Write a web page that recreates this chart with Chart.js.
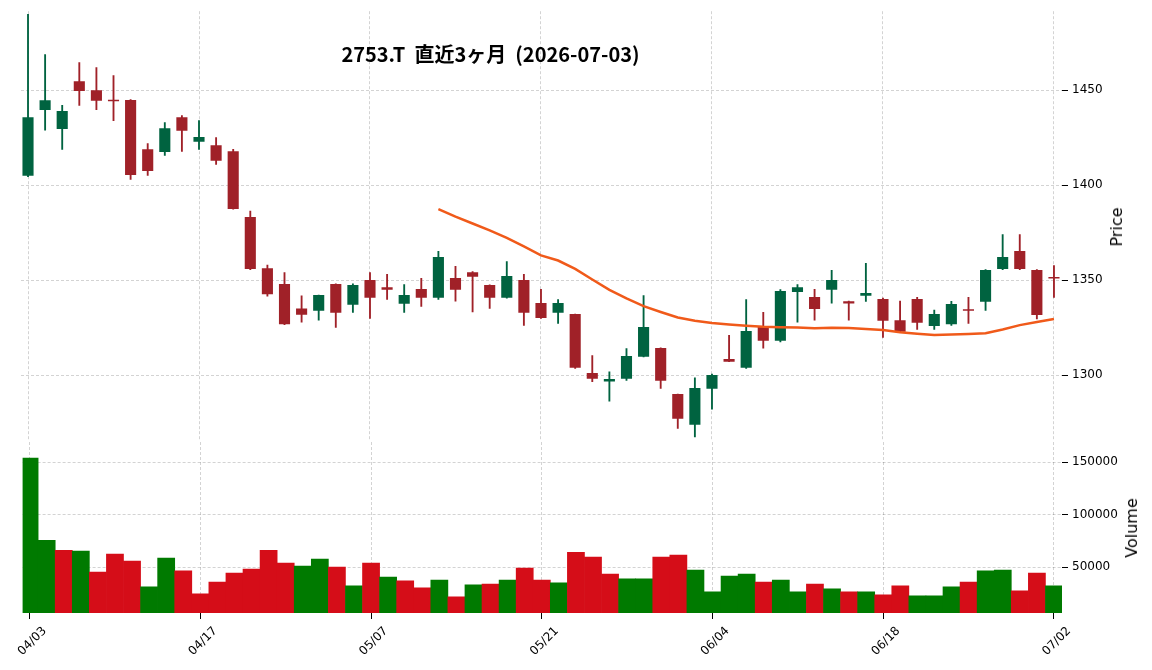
<!DOCTYPE html>
<html><head><meta charset="utf-8">
<script src="https://cdn.jsdelivr.net/npm/chart.js@4.4.1/dist/chart.umd.min.js"></script>
<style>
html,body{margin:0;padding:0;background:#fff;}
#wrap{position:relative;width:1152px;height:670px;overflow:hidden;background:#fff;}
canvas{position:absolute;left:0;top:0;}
.lbl{position:absolute;white-space:pre;color:#000;line-height:1;}
#title{left:0;width:981px;text-align:center;top:44px;font-family:"Noto Sans CJK JP";font-weight:bold;font-size:20px;}
#ylab1,#ylab2{font-family:"DejaVu Sans";font-size:16px;transform:translate(-50%,-50%) rotate(-90deg);}
#ylab1{left:1117px;top:227px;}
#ylab2{left:1132px;top:528px;}
</style></head><body>
<div id="wrap">
<canvas id="vol" width="1152" height="670"></canvas>
<canvas id="price" width="1152" height="670"></canvas>
<div class="lbl" id="title">2753.T  直近3ヶ月  (2026-07-03)</div>
<div class="lbl" id="ylab1">Price</div>
<div class="lbl" id="ylab2">Volume</div>
</div>
<script>
const dates = ["04/03","04/06","04/07","04/08","04/09","04/10","04/13","04/14","04/15","04/16",
"04/17","04/20","04/21","04/22","04/23","04/24","04/27","04/28","04/30","05/01",
"05/07","05/08","05/11","05/12","05/13","05/14","05/15","05/18","05/19","05/20",
"05/21","05/22","05/25","05/26","05/27","05/28","05/29","06/01","06/02","06/03",
"06/04","06/05","06/08","06/09","06/10","06/11","06/12","06/15","06/16","06/17",
"06/18","06/19","06/22","06/23","06/24","06/25","06/26","06/29","06/30","07/01","07/02"];

const opens = [1404.9,1439.6,1429.6,1454.7,1450,1444.9,1444.9,1418.9,1417.4,1435.8,
1422.8,1421,1417.9,1383.2,1356.3,1347.9,1335.1,1333.8,1347.9,1337,
1350,1346.3,1337.5,1345.3,1340.7,1351.1,1354.2,1347.4,1340.7,1350,
1337.9,1332.8,1332.1,1301.1,1296.6,1298.1,1309.6,1314.2,1290,1273.8,
1292.8,1308.4,1303.8,1325.3,1318,1343.8,1341.1,1344.9,1338.9,1341.7,
1340,1328.9,1340,1325.8,1326.8,1334.2,1338.6,1355.8,1365.3,1355.3,1351.1];
const highs = [1490,1468.8,1442,1464.6,1461.9,1457.7,1445,1421.9,1433,1436.7,
1434,1425.1,1418.8,1386.3,1357.9,1354,1341.7,1342.1,1348,1348,
1354,1353,1347.7,1350.9,1365.1,1357.2,1354.5,1347.5,1359.8,1353,
1345.1,1339.8,1332.1,1310.2,1301.7,1314,1341.9,1314.3,1290,1298.6,
1300.5,1320.9,1339.8,1333,1345,1347.7,1345.1,1355.1,1339,1358.8,
1340.5,1339,1340.9,1334.2,1338.8,1340.9,1355.5,1374,1374,1355.5,1357.7];
const lows = [1404.5,1428.9,1418.8,1442,1439.8,1434,1403,1405.1,1415.6,1417.7,
1418.8,1410.9,1387.4,1355.5,1341.6,1326.5,1327.9,1328.9,1325.1,1333,
1329.8,1339.8,1333,1336.2,1339.8,1338.9,1333.2,1335.1,1340.5,1326.2,
1329.8,1327.2,1303.5,1296.5,1286.3,1297.2,1309.5,1293,1271.9,1267.4,
1282.1,1307,1303.5,1314.2,1317.5,1327.9,1328.9,1337.9,1328.9,1338.8,
1319.8,1322.5,1324,1324,1326.2,1327.2,1334,1355.5,1355.5,1329.5,1340.9];
const closes = [1435.8,1444.7,1439,1449.6,1444.4,1444.2,1405.4,1407.5,1430,1428.6,
1425.3,1412.8,1387.4,1355.8,1342.6,1326.8,1331.7,1342.1,1332.8,1347.4,
1340.7,1344.9,1342.1,1340.7,1362.1,1344.9,1351.7,1340.7,1352.1,1332.8,
1330,1337.9,1303.8,1298.1,1297.9,1310,1325.3,1297,1277,1293.2,
1300,1307,1323.2,1318,1344.2,1346.3,1334.8,1350,1337.7,1343.2,
1328.6,1322.8,1327.5,1332.1,1337.4,1333.8,1355.3,1362.1,1355.8,1331.6,1350.8];
const volumes = [153800,75750,66300,65400,45600,62500,55900,31400,58800,46600,
24800,36100,44600,48400,66300,54000,51200,57800,50300,32400,
54000,40800,37100,30500,38000,22000,33300,34200,38000,49300,
38000,35200,64400,59700,43700,39000,39000,59700,61600,47500,
26700,41800,43700,36100,38000,26700,34200,29500,26700,26700,
23900,32400,22900,22900,31400,36100,46600,47500,27600,44600,32400];
const ma25 = [null,null,null,null,null,null,null,null,null,null,
null,null,null,null,null,null,null,null,null,null,
null,null,null,null,1387.4,1383.4,1379.8,1376.2,1372.2,1367.7,
1363,1360.3,1355.9,1350.3,1344.9,1340.4,1336.3,1333.2,1330.3,1328.6,
1327.4,1326.6,1326,1325.4,1325.2,1325,1324.7,1324.9,1324.8,1324.3,
1323.7,1322.5,1321.8,1321.1,1321.3,1321.6,1322,1324,1326.3,1327.9,1329.5];

const dateTickIdx = [0,10,20,30,40,50,60];
const priceTicks = [1300,1350,1400,1450];
const volumeTicks = [50000,100000,150000];

const UP='#006340', DOWN='#A02128', VUP='#007a00', VDOWN='#d50d18', MA='#f05a1a';
const idx = dates.map((d,i)=>i);
const candleColors = idx.map(i => closes[i] >= opens[i] ? UP : DOWN);
const volColors = idx.map(i => (i===0 || closes[i] >= closes[i-1]) ? VUP : VDOWN);

Chart.defaults.font.family = 'DejaVu Sans';
Chart.defaults.font.size = 12;
Chart.defaults.color = '#000';

const XMIN=-0.41, XMAX=60.47;
const gridStyle = {color:'rgba(0,0,0,0.22)', lineWidth:0.8, offset:false};

function xScale(showLabels, h){
  return {
    type:'linear', min:XMIN, max:XMAX, offset:false, bounds:'data',
    afterBuildTicks: s => { s.ticks = dateTickIdx.map(v=>({value:v})); },
    afterFit: s => { s.height = h; },
    ticks: showLabels ? {display:true, autoSkip:false, maxRotation:45, minRotation:45, labelOffset:15, padding:5,
             color:'#000', font:{size:12}, callback: v => dates[v] ?? ''} : {display:false},
    grid: Object.assign({}, gridStyle, {drawTicks: showLabels, tickLength:6, tickColor:'#000', tickWidth:1, tickBorderDash:[]}),
    border: {display:false, dash:[3,2]}
  };
}
function yScale(min, max, ticks){
  return {
    position:'right', min:min, max:max,
    afterBuildTicks: s => { s.ticks = ticks.map(v=>({value:v})); },
    afterFit: s => { s.width = 90; },
    ticks: {color:'#000', font:{size:12}, padding:4, callback: v => String(v)},
    grid: Object.assign({}, gridStyle, {drawTicks:true, tickLength:6, tickColor:'#000', tickWidth:1, tickBorderDash:[]}),
    border: {display:false, dash:[3,2]}
  };
}
const basePlugins = {legend:{display:false}, tooltip:{enabled:false}, title:{display:false}};

new Chart(document.getElementById('price'), {
  type:'bar',
  data:{datasets:[
    {type:'line', data: idx.map(i=>({x:i, y:ma25[i]})), borderColor:MA, borderWidth:2.5, pointRadius:0, tension:0, spanGaps:false},
    {type:'bar', data: idx.map(i=>({x:i, y:[opens[i], closes[i]]})), backgroundColor:candleColors,
      barPercentage:0.65, categoryPercentage:1, grouped:false, minBarLength:1.5},
    {type:'bar', data: idx.map(i=>({x:i, y:[lows[i], highs[i]]})), backgroundColor:candleColors,
      barThickness:1.2, grouped:false}
  ]},
  options:{
    responsive:false, animation:false, devicePixelRatio:1,
    layout:{padding:{top:11,left:21,right:0,bottom:0}, autoPadding:false},
    plugins: basePlugins,
    scales:{ x: xScale(false, 230), y: yScale(1265.8, 1491.6, priceTicks) }
  }
});

const vMin = 0.3*Math.min(...volumes), vMax = 1.1*Math.max(...volumes);
new Chart(document.getElementById('vol'), {
  type:'bar',
  data:{datasets:[
    {data: idx.map(i=>({x:i, y:volumes[i]})), backgroundColor:volColors, borderWidth:0,
      barPercentage:1, categoryPercentage:1, grouped:false}
  ]},
  options:{
    responsive:false, animation:false, devicePixelRatio:1,
    layout:{padding:{top:442,left:21,right:0,bottom:0}, autoPadding:false},
    plugins: basePlugins,
    scales:{ x: xScale(true, 57), y: yScale(vMin, vMax, volumeTicks) }
  }
});
</script>
</body></html>
